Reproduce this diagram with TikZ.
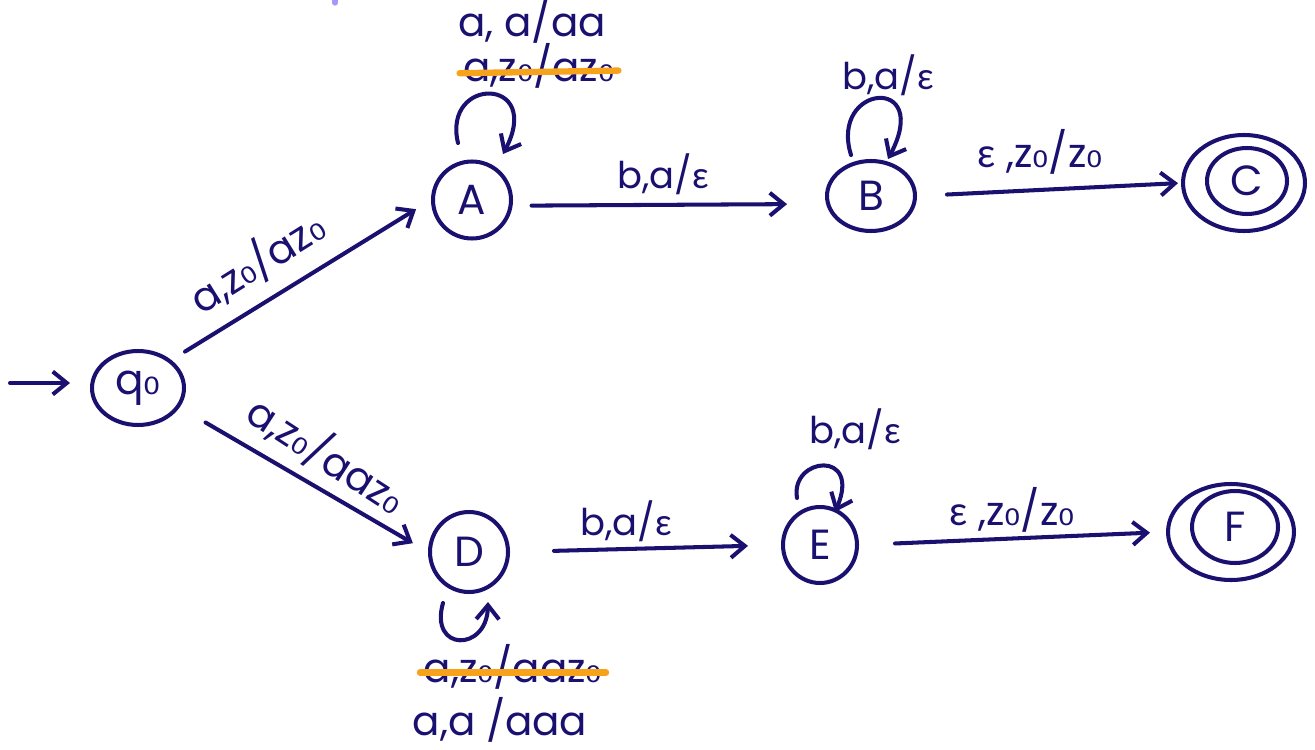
\documentclass[tikz,border=0pt]{standalone}
\usepackage{fontspec}
\setmainfont{Poppins}
\newfontfamily\grk{Lato}
\newfontfamily\subfont{DejaVu Sans}
\usetikzlibrary{arrows.meta,shapes.geometric,calc}
\definecolor{ink}{RGB}{26,16,112}
\definecolor{strikeout}{RGB}{247,162,27}
\definecolor{speck}{RGB}{170,150,250}
\newcommand{\eps}{{\grk ε}}
\newcommand{\zo}{z{\subfont ₀}}

\begin{document}
\begin{tikzpicture}[x=0.02cm,y=-0.02cm,
  inkline/.style={draw=ink,line width=2.3pt,line cap=round,line join=round},
  trans/.style={inkline,-{Straight Barb[length=8pt,width=13pt]}},
  state/.style={inkline,ellipse,inner sep=0pt,text=ink,
    font=\fontsize{24}{26}\selectfont},
  lbl/.style={text=ink,inner sep=0pt,anchor=base,font=\fontsize{23}{25}\selectfont},
  small/.style={lbl,font=\fontsize{21}{23}\selectfont},
  crossout/.style={draw=strikeout,line width=3.6pt,line cap=round}]

\useasboundingbox (0,0) rectangle (1315,750);

% states
\node[state,minimum width=1.84cm,minimum height=1.48cm] (q0) at (138,388) {q{\subfont ₀}};
\node[state,minimum width=1.56cm,minimum height=1.54cm] (A) at (472,200) {A};
\node[state,minimum width=1.76cm,minimum height=1.40cm] (B) at (871,196) {B};
\node[state,minimum width=2.44cm,minimum height=1.92cm] (C) at (1244,183) {};
\node[state,minimum width=1.60cm,minimum height=1.32cm] (Cin) at (1247,181) {C};
\node[state,minimum width=1.56cm,minimum height=1.60cm] (D) at (469,552) {D};
\node[state,minimum width=1.48cm,minimum height=1.52cm] (E) at (820,545) {E};
\node[state,minimum width=2.52cm,minimum height=1.92cm] (F) at (1231,532) {};
\node[state,minimum width=1.72cm,minimum height=1.44cm] (Fin) at (1235,527) {F};

% start marker
\coordinate (start) at (10,383);
\draw[trans,shorten >=0.4cm] (start) -- (start -| q0.west);

% transitions between states
\draw[trans,shorten <=0.32cm,shorten >=0.35cm] (q0.40) -- (A.west);
\draw[trans,shorten <=0.6cm,shorten >=0.35cm] (q0.-25) -- (D.west);
\draw[trans,shorten <=0.38cm,shorten >=0.78cm] (A.-8) -- (B.190);
\draw[trans,shorten <=0.6cm,shorten >=0.06cm] (B.east) -- (C.west);
\draw[trans,shorten <=0.88cm,shorten >=0.66cm] (D.east) -- (E.west);
\draw[trans,shorten <=0.72cm,shorten >=0.32cm] (E.east) -- (F.west);

% self loops
\draw[trans] ($(A)+(-14,-57)$) .. controls ($(A)+(-30,-124)$) and ($(A)+(72,-124)$) .. ($(A)+(31,-46)$);
\draw[trans] ($(B)+(-20,-41)$) .. controls ($(B)+(-42,-112)$) and ($(B)+(62,-122)$) .. ($(B)+(17,-37)$);
\draw[trans] ($(E)+(-23,-47)$) .. controls ($(E)+(-30,-88)$) and ($(E)+(42,-96)$) .. ($(E)+(15,-33)$);
\draw[trans] ($(D)+(-26,51)$) .. controls ($(D)+(-40,100)$) and ($(D)+(18,100)$) .. ($(D)+(19,50)$);

% labels
\node[lbl] (lA1) at (532,37) {a, a/aa};
\node[lbl] (lA2) at (539,82) {a,\zo/a\zo};
\draw[crossout] ([xshift=-2pt,yshift=5pt]lA2.base west) -- ([xshift=2pt,yshift=6.5pt]lA2.base east);
\node[small] (lB) at (888,90) {b,a/\eps};
\node[lbl] (lBC) at (1040,168) {\eps\ ,\zo/\zo};
\node[small] (lAB) at (663,188) {b,a/\eps};
\node[lbl,anchor=center,rotate=32] (lqA) at (257,262) {a,\zo/a\zo};
\node[lbl,anchor=center,rotate=-33] (lqD) at (327,455) {a,\zo/aa\zo};
\node[small] (lE) at (855,443) {b,a/\eps};
\node[lbl] (lEF) at (1012,525) {\eps\ ,\zo/\zo};
\node[small] (lDE) at (626,535) {b,a/\eps};
\node[lbl] (lD1) at (513,682) {a,\zo/aa\zo};
\draw[crossout] ([xshift=-2pt,yshift=5.5pt]lD1.base west) -- ([xshift=2pt,yshift=5.5pt]lD1.base east);
\node[lbl] (lD2) at (500,735) {a,a /aaa};

% stray pen mark
\draw[speck,line width=3pt,line cap=round] (335,0) -- (335,3);
\end{tikzpicture}
\end{document}
